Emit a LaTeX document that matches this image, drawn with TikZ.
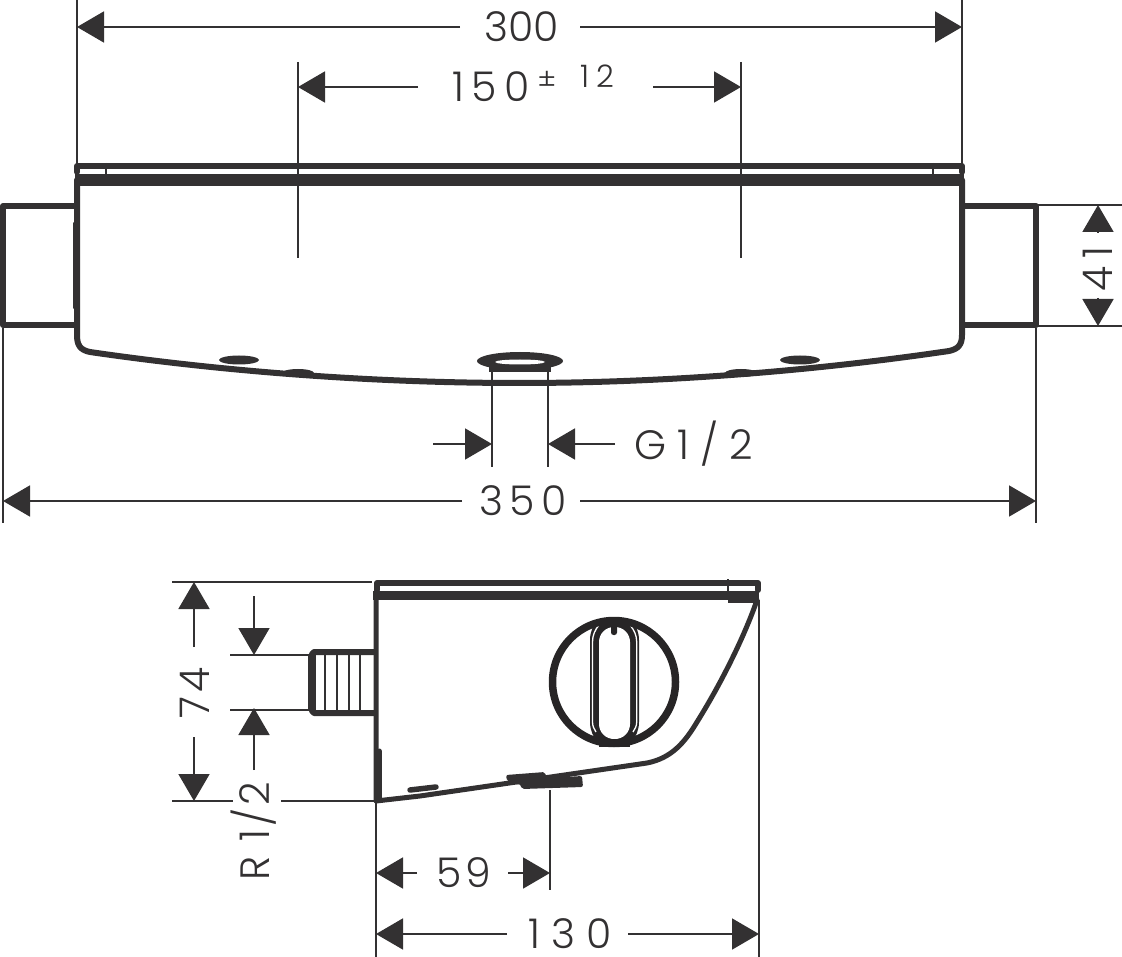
\documentclass[tikz,border=0pt]{standalone}
\usepackage{fontspec}
\setsansfont{Poppins Light}
\usetikzlibrary{arrows.meta}
\definecolor{ink}{HTML}{333132}
\definecolor{knob}{HTML}{272526}
\newcommand{\trk}[2]{{\addfontfeature{LetterSpace=#1}#2}}
\tikzset{
 heavy/.style={draw=ink,line width=6pt,line join=round,line cap=round},
 medium/.style={draw=ink,line width=3pt,line cap=round},
 thin line/.style={draw=ink,line width=1.8pt},
 dim/.style={draw=ink,line width=1.8pt,-{Triangle[length=27pt,width=31pt,color=ink]}},
 label/.style={inner sep=0pt,text=ink,font=\sffamily\fontsize{41}{41}\selectfont},
 blob/.style={fill=ink,draw=none},
}
\begin{document}
\begin{tikzpicture}[x=1pt,y=-1pt]
\useasboundingbox (0,0) rectangle (1122,957);
% ===== front view =====
\draw[heavy] (77,180) -- (77,335) .. controls (77,345) and (80,350) .. (90,352)
  .. controls (220,371) and (370,383) .. (520,383)
  .. controls (670,383) and (820,370) .. (949,351)
  .. controls (958,349) and (962,345) .. (962,335) -- (962,180);
\draw[heavy] (77,172) -- (77,166) -- (962,166) -- (962,172);
\fill[ink] (75,174) rectangle (964,186);
\draw[medium,line width=5pt] (75,224) -- (75,307);
\draw[heavy] (75,206) -- (3,206) -- (3,325) -- (75,325);
\draw[heavy] (964,206) -- (1036,206) -- (1036,325) -- (964,325);
\draw[thin line] (106,163) -- (106,186) (933,163) -- (933,186);
\fill[blob] (239,360) ellipse[x radius=20,y radius=4.5];
\fill[blob] (298,373) ellipse[x radius=16,y radius=4];
\fill[blob] (800,360) ellipse[x radius=20,y radius=4.5];
\fill[blob] (741,373) ellipse[x radius=16,y radius=4];
\fill[blob] (520,361) ellipse[x radius=43,y radius=9];
\fill[blob] (489,362) rectangle (551,372);
\fill[white] (520,362) ellipse[x radius=25,y radius=2.5];
% extension lines
\coordinate (a300l) at (77,27); \coordinate (a300r) at (962,27);
\draw[thin line] (77,0) -- (77,165) (962,0) -- (962,165);
\coordinate (a150l) at (298,87); \coordinate (a150r) at (741,87);
\draw[thin line] (298,62) -- (298,258) (741,62) -- (741,258);
\draw[thin line] (492,368) -- (492,467) (548,368) -- (548,467);
\draw[thin line] (3,328) -- (3,523) (1036,328) -- (1036,523);
\draw[thin line] (1036,205) -- (1122,205) (1036,326) -- (1122,326);
% dimensions
\node[label] (t300) at (522,27) {300};
\coordinate (l300a) at (460,27); \coordinate (l300b) at (580,27);
\draw[dim] (l300a) -- (a300l); \draw[dim] (l300b) -- (a300r);
\node[label] (t150) at (491,87) {\trk{18}{150}};
\node[label,font=\sffamily\fontsize{29}{29}\selectfont] (tpm) at (547,80) {±};
\node[label,font=\sffamily\fontsize{31}{31}\selectfont] (t12) at (597,76) {\trk{22}{12}};
\coordinate (l150a) at (418,87); \coordinate (l150b) at (653,87);
\draw[dim] (l150a) -- (a150l); \draw[dim] (l150b) -- (a150r);
\node[label] (tg) at (694,444) {\trk{27}{G1/2}};
\coordinate (ga) at (433,444); \coordinate (gb) at (615,444);
\coordinate (gah) at (492,444); \coordinate (gbh) at (548,444);
\draw[dim] (ga) -- (gah); \draw[dim] (gb) -- (gbh);
\node[label] (t350) at (523,501) {\trk{15}{350}};
\coordinate (l350a) at (462,501); \coordinate (l350b) at (580,501);
\coordinate (a350l) at (3,501); \coordinate (a350r) at (1036,501);
\draw[dim] (l350a) -- (a350l); \draw[dim] (l350b) -- (a350r);
\node[label,rotate=90] (t41) at (1098,269) {\trk{20}{41}};
\coordinate (l41a) at (1098,233); \coordinate (l41b) at (1098,298);
\coordinate (a41t) at (1098,205); \coordinate (a41b) at (1098,326);
\draw[dim] (l41a) -- (a41t); \draw[dim] (l41b) -- (a41b);
% ===== side view =====
\draw[heavy,line width=5pt] (376,592) -- (376,801) -- (420,796) -- (647,763)
  .. controls (672,758) and (685,742) .. (697,722)
  .. controls (722,682) and (745,635) .. (757,600);
\draw[heavy] (377,590) -- (377,583) -- (758,583) -- (758,590);
\fill[ink] (373,591) rectangle (759,600);
\fill[blob] (728,598) rectangle (757,603);
\draw[medium,line width=5pt] (379,751) -- (379,800);
\draw[thin line] (728,579) -- (728,600);
\draw[heavy] (374,652) -- (314,652) -- (312,654) -- (312,711) -- (314,713) -- (374,713);
\draw[draw=ink,line width=8pt] (312,654) -- (312,711);
\foreach \x in {325,337,349,360} \draw[draw=ink,line width=1.2pt] (\x,652) -- (\x,712);
\draw[draw=ink,line width=5.5pt,line cap=round] (410,790) -- (436,787);
\fill[blob,rounded corners=2pt] (506,775) -- (545,772) -- (547,781) -- (520,785) -- (507,781) -- cycle;
\fill[blob,rounded corners=2pt] (518,780) -- (582,776) -- (583,787) -- (522,789) -- cycle;
% knob
\fill[knob] (590,640) .. controls (590,632) and (593,626) .. (597,620) -- (632,620)
  .. controls (636,626) and (639,632) .. (639,640) -- (639,722)
  .. controls (639,730) and (636,736) .. (632,742) -- (597,742)
  .. controls (593,736) and (590,730) .. (590,722) -- cycle;
\fill[white,rounded corners=15pt] (599,627) rectangle (630,739);
\fill[knob,rounded corners=2.5pt] (611,622) rectangle (617,635);
\draw[white,line width=1.3pt] (599,625) .. controls (595,630) and (592.5,635) .. (592.5,642) -- (592.5,722) .. controls (592.5,726) and (594,729) .. (596,732);
\draw[white,line width=1.3pt] (630,625) .. controls (634,630) and (636.7,635) .. (636.7,642) -- (636.7,722) .. controls (636.7,726) and (635,729) .. (633,732);
\draw[draw=knob,line width=7.5pt] (614,682) circle[radius=61.5];
\fill[knob] (599,739) rectangle (630,746.5);
% extension lines
\draw[thin line] (172,582) -- (372,582) (172,801) -- (233,801) (281,801) -- (375,801);
\draw[thin line] (230,655) -- (308,655) (230,710) -- (308,710);
\draw[thin line] (376,803) -- (376,957) (759,600) -- (759,957) (550,790) -- (550,890);
% dimensions
\node[label,rotate=90] (t74) at (195,693) {\trk{12}{74}};
\coordinate (l74a) at (194,647); \coordinate (l74b) at (194,737);
\coordinate (a74t) at (194,582); \coordinate (a74b) at (194,801);
\draw[dim] (l74a) -- (a74t); \draw[dim] (l74b) -- (a74b);
\node[label,rotate=90] (tr) at (254,831) {\trk{8}{R 1/2}};
\coordinate (ra) at (254,596); \coordinate (rb) at (254,770);
\coordinate (rah) at (254,655); \coordinate (rbh) at (254,708);
\draw[dim] (ra) -- (rah); \draw[dim] (rb) -- (rbh);
\node[label] (t59) at (464,873) {\trk{10}{59}};
\coordinate (l59a) at (417,873); \coordinate (l59b) at (508,873);
\coordinate (a59l) at (376,873); \coordinate (a59r) at (550,873);
\draw[dim] (l59a) -- (a59l); \draw[dim] (l59b) -- (a59r);
\node[label] (t130) at (570,934) {\trk{26}{130}};
\coordinate (l130a) at (507,934); \coordinate (l130b) at (628,934);
\coordinate (a130l) at (376,934); \coordinate (a130r) at (759,934);
\draw[dim] (l130a) -- (a130l); \draw[dim] (l130b) -- (a130r);
\end{tikzpicture}
\end{document}
